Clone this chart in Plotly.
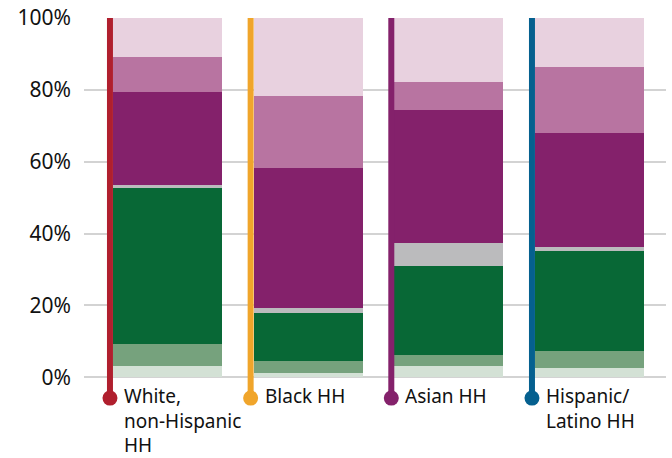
import plotly.graph_objects as go

# Household groups (one stacked column each)
groups = ["White,<br>non-Hispanic<br>HH", "Black HH", "Asian HH", "Hispanic/<br>Latino HH"]
group_colors = ["#B01F2E", "#F0A52B", "#84216B", "#05608F"]

# Stacked shares in percent, bottom segment first
seg_names = ["Segment 1", "Segment 2", "Segment 3", "Segment 4",
             "Segment 5", "Segment 6", "Segment 7"]
seg_colors = ["#D3E1D5", "#76A27D", "#086836", "#BBBBBD",
              "#84216B", "#B874A1", "#E8D1DF"]
white_hh = [3.0, 6.2, 43.5, 0.8, 25.9, 9.7, 10.9]
black_hh = [1.3, 3.1, 13.6, 1.2, 39.0, 20.0, 21.8]
asian_hh = [3.0, 3.3, 24.7, 6.4, 37.0, 7.7, 17.9]
hispanic_hh = [2.7, 4.7, 27.8, 1.1, 31.7, 18.3, 13.7]

y_ticks = [0, 20, 40, 60, 80, 100]

FONT = "Noto Sans"
BAR_W = 0.775
STEM_OFF = -0.409   # stem sits just left of each column
DOT_Y = -5.8        # stem end / dot position below the baseline

table = [white_hh, black_hh, asian_hh, hispanic_hh]
xs = list(range(len(groups)))

fig = go.Figure()

for k, name in enumerate(seg_names):
    fig.add_trace(go.Bar(
        x=xs,
        y=[row[k] for row in table],
        name=name,
        width=BAR_W,
        marker=dict(color=seg_colors[k], line=dict(width=0)),
        showlegend=False,
        hoverinfo="skip",
    ))

# Coloured stems with round end markers
for i, col in enumerate(group_colors):
    fig.add_trace(go.Scatter(
        x=[i + STEM_OFF, i + STEM_OFF],
        y=[DOT_Y, 100],
        mode="lines",
        line=dict(color=col, width=6),
        showlegend=False,
        hoverinfo="skip",
    ))
    fig.add_trace(go.Scatter(
        x=[i + STEM_OFF],
        y=[DOT_Y],
        mode="markers",
        marker=dict(color=col, size=15, line=dict(width=0)),
        cliponaxis=False,
        showlegend=False,
        hoverinfo="skip",
    ))
    fig.add_annotation(
        x=i + STEM_OFF, y=0, xref="x", yref="y",
        text=groups[i], showarrow=False,
        xanchor="left", yanchor="top", align="left",
        xshift=12, yshift=-4,
        font=dict(family=FONT, size=19, color="#111111"),
    )

fig.update_layout(
    width=672, height=458,
    margin=dict(l=84, r=6, t=17.7, b=51.5, autoexpand=False),
    barmode="stack",
    bargap=0,
    plot_bgcolor="white",
    paper_bgcolor="white",
    font=dict(family=FONT, color="#111111"),
)
fig.update_xaxes(
    range=[-0.5936, 3.5438],
    showticklabels=False, showgrid=False, zeroline=False,
    showline=False, ticks="", fixedrange=True,
)
fig.update_yaxes(
    range=[-8, 100],
    tickvals=y_ticks,
    ticktext=[f"{v}%" for v in y_ticks],
    tickfont=dict(family=FONT, size=21, color="#111111"),
    showgrid=True, gridcolor="#D3D3D3", gridwidth=2,
    zeroline=False, showline=False, ticks="",
    ticklabelstandoff=12, automargin=False, fixedrange=True,
)

fig.write_html("out.html")
